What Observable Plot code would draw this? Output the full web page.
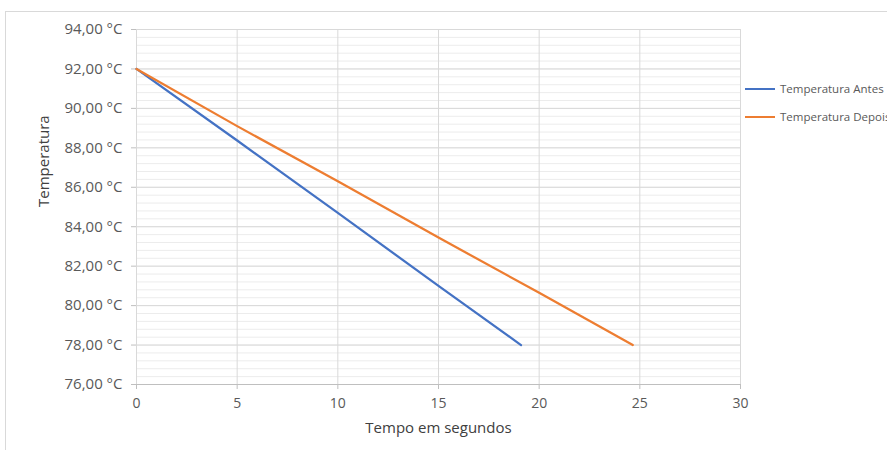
<!DOCTYPE html>
<html><head><meta charset="utf-8">
<script src="https://cdn.jsdelivr.net/npm/d3@7"></script>
<script src="https://cdn.jsdelivr.net/npm/@observablehq/plot@0.6"></script>
<style>
body{margin:0;background:#fff;}
#wrap{position:relative;width:887px;height:450px;overflow:hidden;font-family:"Open Sans",sans-serif;}
#frame{position:absolute;left:5px;top:11px;width:900px;height:500px;border:1px solid #d9d9d9;box-sizing:border-box;}
#chart{position:absolute;left:0;top:0;}
.leg{position:absolute;left:745px;font-size:11.5px;color:#595959;white-space:nowrap;line-height:16px;}
.leg span{display:inline-block;width:30px;height:0;border-top:2px solid;vertical-align:middle;margin-right:5px;position:relative;top:-1px;}
</style></head>
<body>
<div id="wrap"><div id="frame"></div><div id="chart"></div></div>
<script>
const series = ["Temperatura Antes", "Temperatura Depois"];
const colors = ["#4472C4", "#ED7D31"];
const tempoAntes = [0, 5, 10, 15, 19.1];
const tempAntes = [92, 88.37, 84.7, 81.0, 78];
const tempoDepois = [0, 5, 10, 15, 20, 24.65];
const tempDepois = [92, 89.1, 86.3, 83.45, 80.65, 78];
const xTicks = [0, 5, 10, 15, 20, 25, 30];
const yTicks = [76, 78, 80, 82, 84, 86, 88, 90, 92, 94];
const yMinor = d3.range(76, 94.001, 0.4);
const xTitle = "Tempo em segundos";
const yTitle = "Temperatura";

const fmt = d => d.toFixed(2).replace(".", ",") + " °C";

const chart = Plot.plot({
  width: 887, height: 450,
  marginLeft: 136, marginRight: 147, marginTop: 29, marginBottom: 66,
  style: {background: "transparent", fontFamily: "'Open Sans', sans-serif"},
  x: {domain: [0, 30], axis: null},
  y: {domain: [76, 94], axis: null},
  marks: [
    Plot.ruleY(yMinor, {stroke: "#ececec", strokeWidth: 1}),
    Plot.ruleY(yTicks, {stroke: "#d9d9d9", strokeWidth: 1}),
    Plot.ruleX(xTicks, {stroke: "#d9d9d9", strokeWidth: 1}),
    Plot.ruleY([76], {stroke: "#bfbfbf", strokeWidth: 1}),
    Plot.axisY({ticks: yTicks, tickSize: 5, tickPadding: 9, tickFormat: fmt, fontSize: 15, stroke: "#bfbfbf", fill: "#595959", label: null}),
    Plot.axisX({ticks: xTicks, tickSize: 5, tickPadding: 9, tickFormat: d => String(d), fontSize: 14, stroke: "#bfbfbf", fill: "#595959", label: null}),
    Plot.text([yTitle], {frameAnchor: "left", dx: -92, rotate: -90, fontSize: 15, fill: "#404040"}),
    Plot.text([xTitle], {frameAnchor: "bottom", dy: 48, fontSize: 15, fill: "#404040"}),
    Plot.line(tempAntes, {x: tempoAntes, y: tempAntes, stroke: colors[0], strokeWidth: 2.25}),
    Plot.line(tempDepois, {x: tempoDepois, y: tempDepois, stroke: colors[1], strokeWidth: 2.25})
  ]
});
document.getElementById("chart").appendChild(chart);

const wrap = document.getElementById("wrap");
const legY = [89, 117];
series.forEach((s, i) => {
  const d = document.createElement("div");
  d.className = "leg";
  d.style.top = (legY[i] - 8) + "px";
  d.innerHTML = `<span style="border-color:${colors[i]}"></span>${s}`;
  wrap.appendChild(d);
});
</script>
</body></html>
